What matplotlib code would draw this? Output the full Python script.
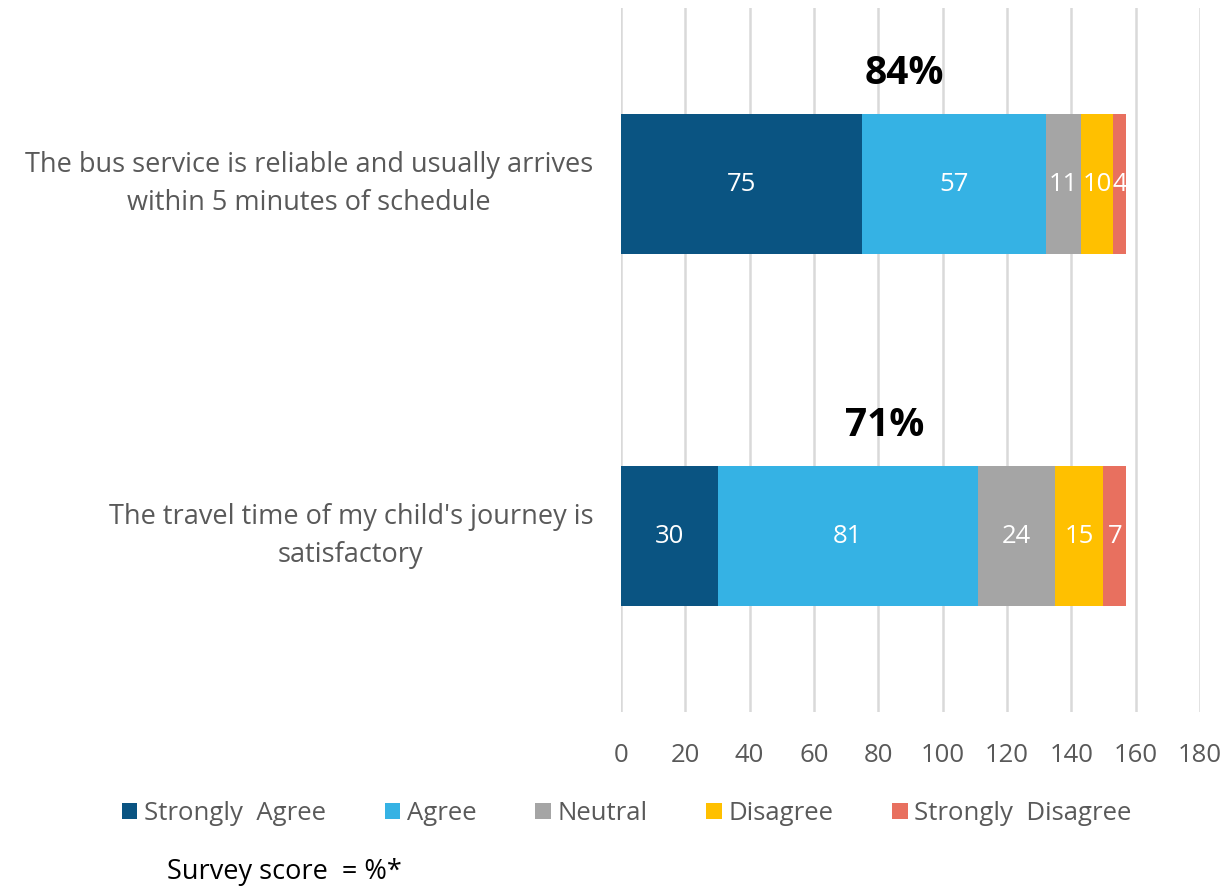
import matplotlib.pyplot as plt
import numpy as np

plt.rcParams['font.family'] = ['Open Sans', 'DejaVu Sans']

questions = ["The bus service is reliable and usually arrives\nwithin 5 minutes of schedule",
             "The travel time of my child's journey is\nsatisfactory"]
series = ["Strongly  Agree", "Agree", "Neutral", "Disagree", "Strongly  Disagree"]
values = [[75, 30],
          [57, 81],
          [11, 24],
          [10, 15],
          [4, 7]]
scores = ["84%", "71%"]
score_x = [88, 82]
colors = ["#0A5482", "#35B2E4", "#A5A5A5", "#FFC000", "#E8705F"]
text_grey = "#595959"

fig = plt.figure(figsize=(12.29, 8.89), dpi=100)
ax = fig.add_axes([0.5053, 0.199, 0.4711, 0.792])

y = np.arange(len(questions))
left = np.zeros(len(questions))
for name, vals, c in zip(series, values, colors):
    bars = ax.barh(y, vals, left=left, height=0.4, color=c, label=name, zorder=3)
    for b, v in zip(bars, vals):
        ax.text(b.get_x() + b.get_width() / 2, b.get_y() + b.get_height() / 2, str(v),
                ha='center', va='center', color='white', fontsize=18.5, zorder=4)
    left += np.array(vals)

for yi, s, sx in zip(y, scores, score_x):
    ax.text(sx, yi - 0.315, s, ha='center', va='center', fontsize=28, fontweight='bold', color='black')

ax.set_xlim(0, 180)
ax.set_xticks(range(0, 181, 20))
ax.set_ylim(1.5, -0.5)
ax.set_yticks(y)
ax.set_yticklabels(questions, multialignment='center', linespacing=1.45, va='center')
ax.tick_params(axis='both', length=0, colors=text_grey)
ax.tick_params(axis='y', pad=20, labelsize=19.5)
ax.tick_params(axis='x', pad=22, labelsize=18.5)
ax.xaxis.grid(True, color='#D9D9D9', linewidth=1.8, zorder=0)
for sp in ax.spines.values():
    sp.set_visible(False)

leg = fig.legend(loc='center', bbox_to_anchor=(0.51, 0.085), ncol=5, frameon=False,
                 fontsize=18.5, handlelength=0.6, handleheight=0.6, handletextpad=0.25,
                 columnspacing=2.3)
for t in leg.get_texts():
    t.set_color(text_grey)

fig.text(0.136, 0.011, "Survey score  = %*", fontsize=19.5, color='black')

fig.savefig("out.png", dpi=100)
